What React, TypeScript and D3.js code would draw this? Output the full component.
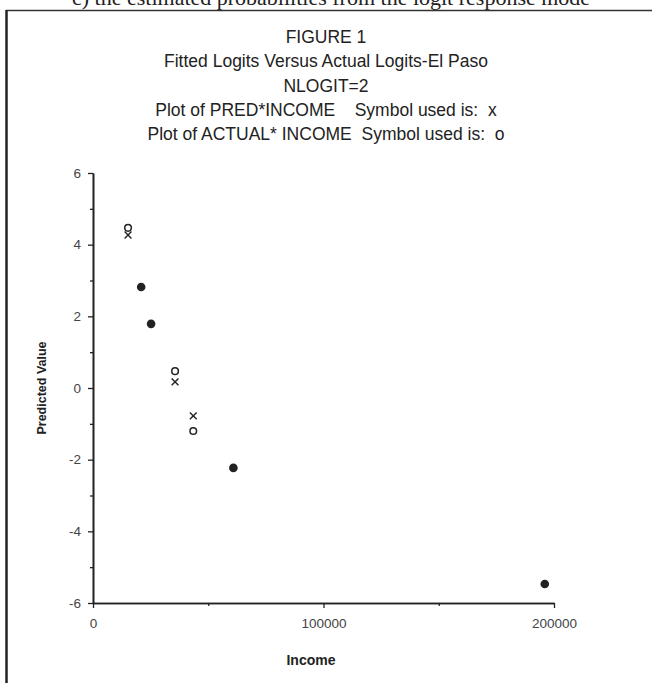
import React, { useEffect, useRef } from "react";
import * as d3 from "d3";

// values
const income = [15200, 20900, 25200, 35600, 43500, 60900, 196000];
const predicted = [4.27, 2.82, 1.79, 0.17, -0.78, -2.23, -5.47];
const actual = [4.47, 2.82, 1.79, 0.47, -1.2, -2.23, -5.47];

const titleLines = [
  "FIGURE 1",
  "Fitted Logits Versus Actual Logits-El Paso",
  "NLOGIT=2",
  "Plot of PRED*INCOME    Symbol used is:  x",
  "Plot of ACTUAL* INCOME  Symbol used is:  o",
];
const yMajor = [-6, -4, -2, 0, 2, 4, 6];
const yMinor = [-5, -3, -1, 1, 3, 5];
const xMajor = [0, 100000, 200000];
const xMinor = [50000, 150000];

const App = () => {
  const ref = useRef<SVGSVGElement>(null);

  useEffect(() => {
    drawChart();
  }, []);

  const drawChart = () => {
    const svg = d3.select(ref.current);
    svg.selectAll("*").remove();
    const font = "'Liberation Sans', Arial, sans-serif";

    // page frame and the cut-off sentence above it
    svg.append("text")
      .attr("x", 72).attr("y", 5)
      .attr("font-family", "'Liberation Serif', 'Times New Roman', serif")
      .attr("font-size", 22).attr("fill", "#222")
      .text("c) the estimated probabilities from the logit response mode");
    svg.append("line")
      .attr("x1", 6).attr("x2", 652).attr("y1", 10.5).attr("y2", 10.5)
      .attr("stroke", "#333").attr("stroke-width", 1.5);
    svg.append("line")
      .attr("x1", 6.5).attr("x2", 6.5).attr("y1", 10).attr("y2", 683)
      .attr("stroke", "#222").attr("stroke-width", 2.5);

    svg.append("g").selectAll("text")
      .data(titleLines)
      .join("text")
      .attr("x", 326)
      .attr("y", (d, i) => 43 + i * 24.3)
      .attr("text-anchor", "middle")
      .attr("font-family", font).attr("font-size", 17.5).attr("fill", "#222")
      .style("white-space", "pre")
      .text((d) => d);

    const x = d3.scaleLinear().domain([0, 200000]).range([93, 554]);
    const y = d3.scaleLinear().domain([-6, 6]).range([603, 173]);

    const styleAxis = (g) => {
      g.select(".domain").attr("stroke", "#222").attr("stroke-width", 1.6);
      g.selectAll("line").attr("stroke", "#222").attr("stroke-width", 1.3);
      g.selectAll("text").attr("fill", "#444").attr("font-size", 13.5).attr("font-family", font);
    };
    const plain = (d) => String(d);

    svg.append("g").attr("transform", "translate(93,0)")
      .call(d3.axisLeft(y).tickValues(yMinor).tickSize(3).tickSizeOuter(0).tickFormat(() => ""))
      .call(styleAxis);
    svg.append("g").attr("transform", "translate(93,0)")
      .call(d3.axisLeft(y).tickValues(yMajor).tickSize(5).tickSizeOuter(0).tickPadding(7).tickFormat(plain))
      .call(styleAxis);

    svg.append("g").attr("transform", "translate(0,603)")
      .call(d3.axisBottom(x).tickValues(xMinor).tickSize(3).tickSizeOuter(0).tickFormat(() => ""))
      .call(styleAxis);
    svg.append("g").attr("transform", "translate(0,603)")
      .call(d3.axisBottom(x).tickValues(xMajor).tickSize(5).tickSizeOuter(0).tickPadding(10).tickFormat(plain))
      .call(styleAxis);

    svg.append("text")
      .attr("x", 311).attr("y", 665)
      .attr("text-anchor", "middle")
      .attr("font-family", font).attr("font-size", 14).attr("font-weight", "bold").attr("fill", "#222")
      .text("Income");
    svg.append("text")
      .attr("transform", "translate(46,388) rotate(-90)")
      .attr("text-anchor", "middle")
      .attr("font-family", font).attr("font-size", 12.5).attr("font-weight", "bold").attr("fill", "#222")
      .text("Predicted Value");

    const pts = income.map((v, i) => ({ inc: v, pred: predicted[i], act: actual[i] }));
    const same = pts.filter((d) => Math.abs(d.pred - d.act) < 0.05);
    const diff = pts.filter((d) => Math.abs(d.pred - d.act) >= 0.05);

    // where both symbols land on top of each other the plot shows a solid dot
    svg.append("g").selectAll("circle")
      .data(same)
      .join("circle")
      .attr("cx", (d) => x(d.inc)).attr("cy", (d) => y(d.pred))
      .attr("r", 4.3).attr("fill", "#222");

    svg.append("g").selectAll("circle")
      .data(diff)
      .join("circle")
      .attr("cx", (d) => x(d.inc)).attr("cy", (d) => y(d.act))
      .attr("r", 3.3).attr("fill", "none").attr("stroke", "#222").attr("stroke-width", 1.5);

    const cross = d3.symbol(d3.symbolX, 32);
    svg.append("g").selectAll("path")
      .data(diff)
      .join("path")
      .attr("transform", (d) => `translate(${x(d.inc)},${y(d.pred)})`)
      .attr("d", cross)
      .attr("fill", "none").attr("stroke", "#222").attr("stroke-width", 1.4);
  };

  return (
    <svg ref={ref} width={652} height={683}
      style={{ position: "absolute", left: 0, top: 0, background: "#fff" }} />
  );
};

export default App;
